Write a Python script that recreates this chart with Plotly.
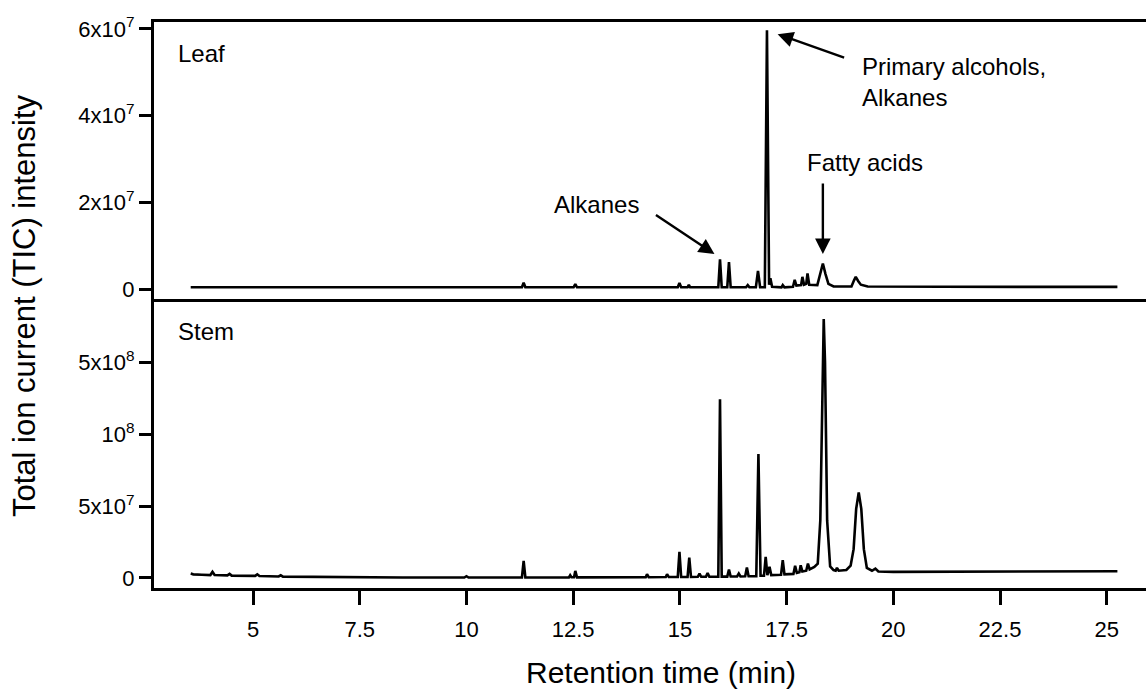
import plotly.graph_objects as go

# ---------------- data ----------------
# Leaf chromatogram: retention time (min) and TIC intensity (x1e6)
leaf_time = [3.54, 6.0, 9.0, 11.30, 11.34, 11.38, 12.51, 12.55, 12.59,
             14.95, 14.99, 15.03, 15.18, 15.21, 15.24,
             15.90, 15.94, 15.98, 16.11, 16.15, 16.19, 16.55, 16.59, 16.63,
             16.78, 16.83, 16.88, 16.99, 17.04, 17.09, 17.12, 17.16,
             17.38, 17.41, 17.45, 17.65, 17.69, 17.73, 17.84, 17.87, 17.91,
             17.96, 17.99, 18.03, 18.22, 18.29, 18.35, 18.41, 18.48, 18.60,
             19.02, 19.08, 19.12, 19.18, 19.24, 19.40, 21.0, 23.0, 25.25]
leaf_tic_e6 = [0.4, 0.4, 0.4, 0.4, 1.45, 0.4, 0.4, 1.15, 0.4,
               0.4, 1.4, 0.4, 0.4, 1.0, 0.4,
               0.4, 6.85, 0.4, 0.4, 6.2, 0.4, 0.4, 0.9, 0.4,
               0.4, 4.2, 0.4, 0.4, 59.7, 1.0, 2.5, 0.5,
               0.4, 0.9, 0.4, 0.5, 2.1, 0.8, 0.9, 2.8, 1.0,
               1.2, 3.6, 1.0, 0.9, 3.5, 5.9, 3.5, 1.2, 0.6,
               0.6, 2.0, 2.8, 1.8, 1.0, 0.6, 0.5, 0.5, 0.5]

# Stem chromatogram: retention time (min) and TIC intensity (x1e6)
stem_time = [3.54, 3.60, 3.80, 4.00, 4.05, 4.10, 4.40, 4.45, 4.50,
             5.05, 5.10, 5.15, 5.60, 5.65, 5.70, 6.50, 7.50, 8.50,
             9.95, 10.00, 10.05, 11.30, 11.34, 11.38, 12.40, 12.43, 12.46,
             12.52, 12.55, 12.59, 14.20, 14.23, 14.27, 14.67, 14.70, 14.74,
             14.95, 14.99, 15.03, 15.18, 15.22, 15.26, 15.42, 15.46, 15.50,
             15.61, 15.65, 15.69, 15.90, 15.94, 15.98, 16.11, 16.15, 16.19,
             16.34, 16.38, 16.42, 16.53, 16.57, 16.61, 16.79, 16.84, 16.89,
             16.97, 17.01, 17.05, 17.10, 17.14, 17.37, 17.41, 17.45,
             17.66, 17.70, 17.74, 17.80, 17.83, 17.87, 17.96, 18.00, 18.04,
             18.15, 18.23, 18.29, 18.34, 18.37, 18.40, 18.45, 18.52, 18.60,
             18.65, 18.68, 18.72, 18.90, 19.00, 19.07, 19.13, 19.19, 19.25,
             19.31, 19.38, 19.50, 19.58, 19.65, 20.0, 22.0, 25.25]
stem_tic_e6 = [3.0, 2.5, 2.2, 2.0, 4.2, 2.0, 1.8, 2.8, 1.6,
               1.4, 2.5, 1.3, 1.0, 1.8, 0.9, 0.6, 0.4, 0.3,
               0.3, 1.2, 0.3, 0.3, 11.8, 0.3, 0.4, 1.9, 0.5,
               0.5, 4.9, 0.4, 0.5, 2.6, 0.5, 0.6, 2.6, 0.6,
               0.6, 18.1, 0.6, 0.6, 14.2, 0.7, 0.8, 3.0, 0.8,
               0.8, 3.5, 0.8, 0.8, 124.2, 0.9, 0.9, 5.8, 1.0,
               1.0, 3.0, 1.0, 1.1, 7.2, 1.2, 1.2, 86.1, 1.5,
               1.5, 14.6, 2.0, 7.7, 2.0, 2.2, 12.3, 2.5,
               2.8, 8.4, 3.5, 4.0, 8.8, 4.5, 5.0, 10.0, 6.0,
               7.7, 10.0, 40.0, 150.0, 180.0, 150.0, 40.0, 8.0, 5.5,
               5.0, 7.0, 5.0, 5.5, 8.5, 20.0, 48.0, 59.5, 48.0,
               20.0, 7.0, 5.0, 6.5, 4.5, 4.2, 4.5, 4.7]

x_tick_vals = [5, 7.5, 10, 12.5, 15, 17.5, 20, 22.5, 25]
x_tick_text = ["5", "7.5", "10", "12.5", "15", "17.5", "20", "22.5", "25"]
leaf_tick_vals = [0, 2e7, 4e7, 6e7]
leaf_tick_text = ["0", "2x10<sup>7</sup>", "4x10<sup>7</sup>", "6x10<sup>7</sup>"]
stem_tick_vals = [0, 5e7, 1e8, 1.5e8]
stem_tick_text = ["0", "5x10<sup>7</sup>", "10<sup>8</sup>", "5x10<sup>8</sup>"]

# ---------------- figure ----------------
FONT = "Liberation Sans, Arial, sans-serif"
leaf_y = [v * 1e6 for v in leaf_tic_e6]
stem_y = [v * 1e6 for v in stem_tic_e6]

fig = go.Figure()
fig.add_trace(go.Scatter(x=leaf_time, y=leaf_y, mode="lines",
                         line=dict(color="black", width=2.6),
                         xaxis="x", yaxis="y", showlegend=False))
fig.add_trace(go.Scatter(x=stem_time, y=stem_y, mode="lines",
                         line=dict(color="black", width=2.6),
                         xaxis="x2", yaxis="y2", showlegend=False))

split = 0.5106
xr = [2.68, 25.92]
axis_common = dict(showgrid=False, zeroline=False, showline=True,
                   linecolor="black", linewidth=3,
                   tickfont=dict(family=FONT, size=22, color="black"),
                   tickcolor="black", tickwidth=2.5)

fig.update_layout(
    width=1146, height=691,
    margin=dict(l=154, r=0, t=22, b=103),
    paper_bgcolor="white", plot_bgcolor="white",
    font=dict(family=FONT, color="black"),
    xaxis=dict(anchor="y", domain=[0, 1], range=xr, showticklabels=False,
               ticks="", mirror=True, **axis_common),
    xaxis2=dict(anchor="y2", domain=[0, 1], range=xr, matches="x",
                tickmode="array", tickvals=x_tick_vals, ticktext=x_tick_text,
                ticks="outside", ticklen=14, ticklabelstandoff=6, **axis_common),
    yaxis=dict(anchor="x", domain=[split, 1], range=[-0.23e7, 6.16e7],
               tickmode="array", tickvals=leaf_tick_vals, ticktext=leaf_tick_text,
               ticks="outside", ticklen=12, **axis_common),
    yaxis2=dict(anchor="x2", domain=[0, split], range=[-0.70e7, 1.94e8],
                tickmode="array", tickvals=stem_tick_vals, ticktext=stem_tick_text,
                ticks="outside", ticklen=12, **axis_common),
)

ann_font = dict(family=FONT, size=24, color="black")
plot_w = 1146 - 154
plot_h = 691 - 22 - 103


def px_to_paper(px, py):
    return (px - 154) / plot_w, (691 - 103 - py) / plot_h


ytx, yty = px_to_paper(24, 306)
xtx, xty = px_to_paper(661, 672)

annotations = [
    dict(text="Leaf", x=3.20, y=5.44e7, xref="x", yref="y", showarrow=False,
         xanchor="left", yanchor="middle", font=ann_font),
    dict(text="Stem", x=3.20, y=1.711e8, xref="x2", yref="y2", showarrow=False,
         xanchor="left", yanchor="middle", font=ann_font),
    dict(text="Alkanes", x=12.01, y=1.96e7, xref="x", yref="y", showarrow=False,
         xanchor="left", yanchor="middle", font=ann_font),
    dict(text="Fatty acids", x=17.94, y=2.93e7, xref="x", yref="y", showarrow=False,
         xanchor="left", yanchor="middle", font=ann_font),
    dict(text="Primary alcohols,<br>Alkanes", x=19.21, y=4.78e7, xref="x", yref="y",
         showarrow=False, xanchor="left", yanchor="middle", align="left", font=ann_font),
    # arrows
    dict(text="", x=15.81, y=8.07e6, xref="x", yref="y", showarrow=True,
         ax=-60, ay=-40, arrowhead=2, arrowsize=1.3, arrowwidth=2.4, arrowcolor="black"),
    dict(text="", x=18.35, y=8.07e6, xref="x", yref="y", showarrow=True,
         ax=0, ay=-72, arrowhead=2, arrowsize=1.3, arrowwidth=2.4, arrowcolor="black"),
    dict(text="", x=17.29, y=5.88e7, xref="x", yref="y", showarrow=True,
         ax=68, ay=24, arrowhead=2, arrowsize=1.3, arrowwidth=2.4, arrowcolor="black"),
    # axis titles
    dict(text="Total ion current (TIC) intensity", x=ytx, y=yty, xref="paper", yref="paper",
         showarrow=False, textangle=-90, font=dict(family=FONT, size=31, color="black"),
         xanchor="center", yanchor="middle"),
    dict(text="Retention time (min)", x=xtx, y=xty, xref="paper", yref="paper",
         showarrow=False, font=dict(family=FONT, size=30, color="black"),
         xanchor="center", yanchor="middle"),
]
fig.update_layout(annotations=annotations)

fig.write_html("out.html")
